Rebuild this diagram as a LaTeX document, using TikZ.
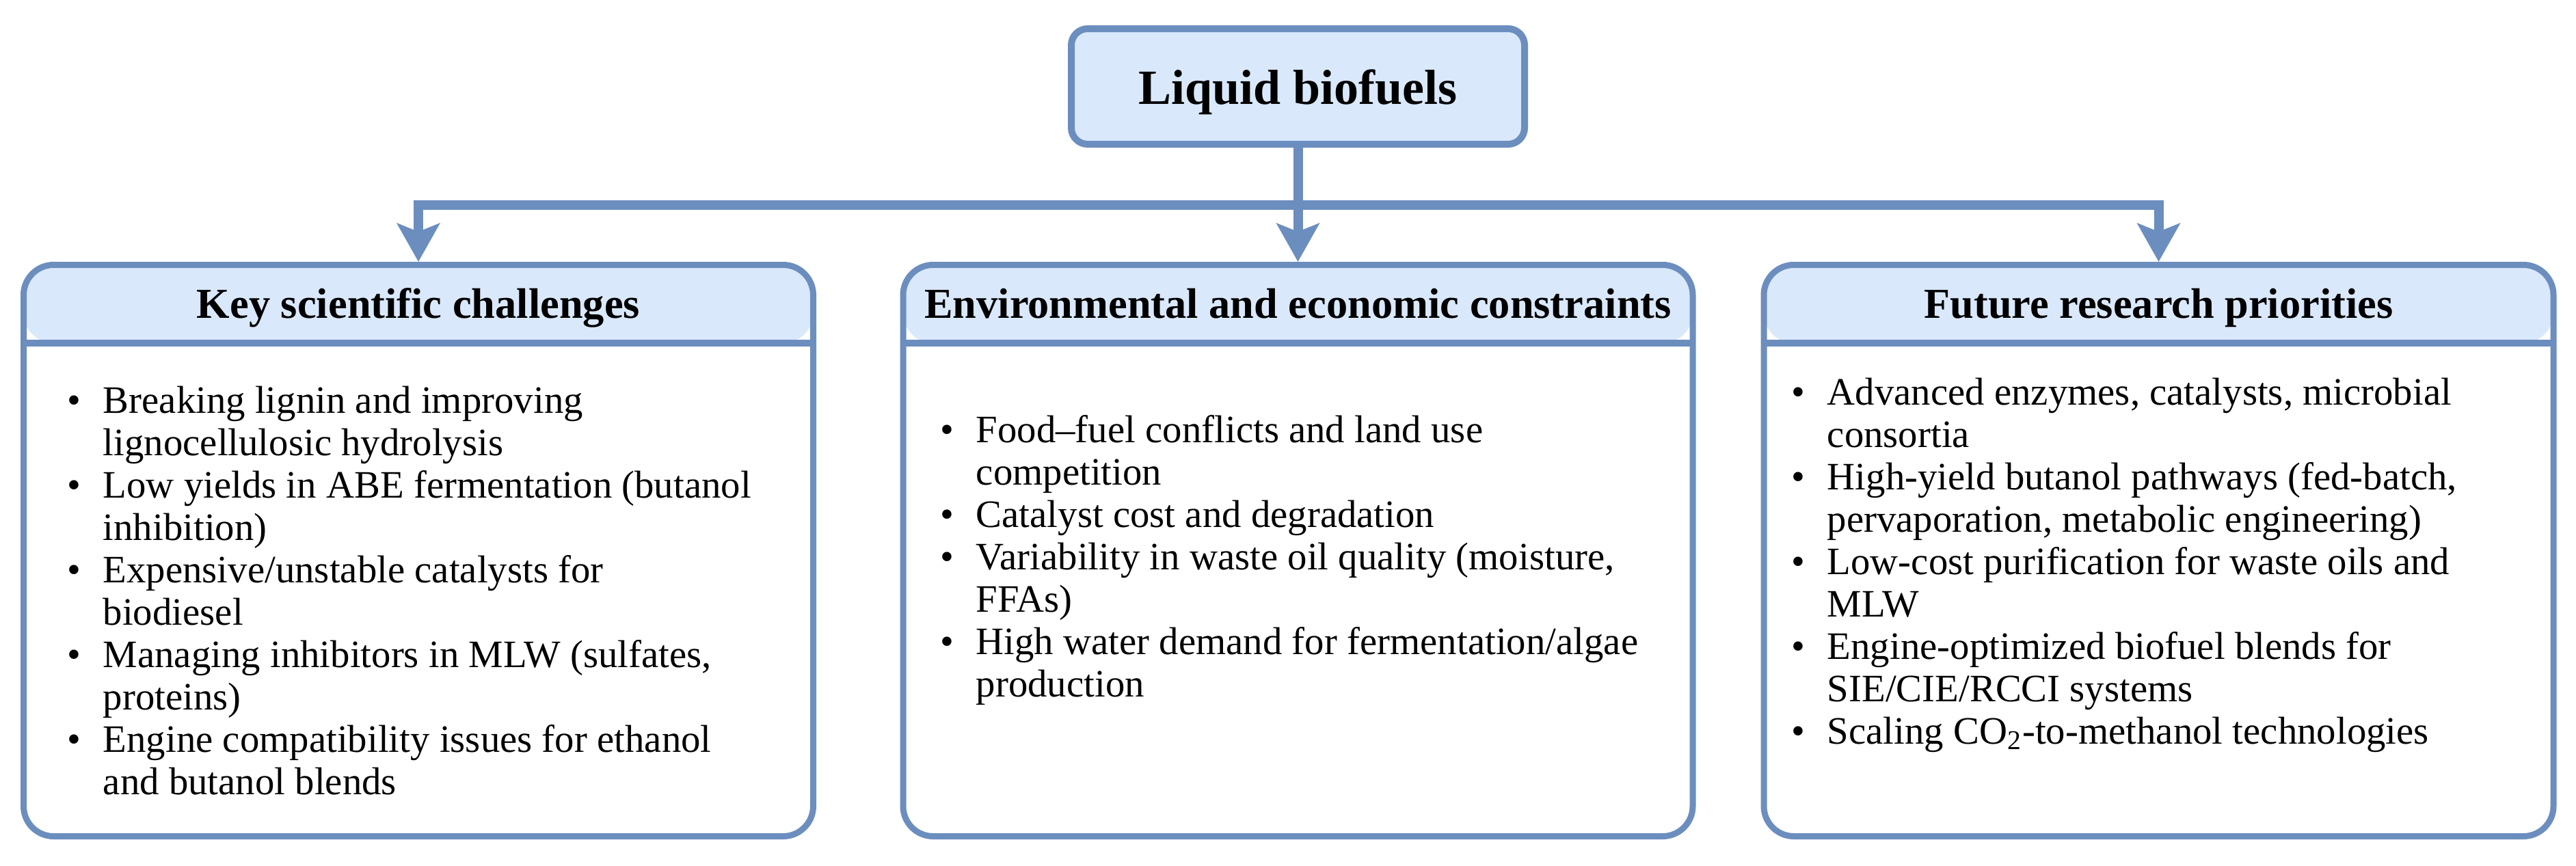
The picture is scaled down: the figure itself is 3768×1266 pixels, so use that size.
\documentclass[tikz,border=0pt]{standalone}
\usepackage{fontspec}
\setmainfont{Liberation Serif}
\usetikzlibrary{arrows.meta,calc}
\definecolor{bord}{HTML}{6C8EBF}
\definecolor{hdr}{HTML}{DAE8FC}
\newcommand{\bodyfont}{\fontsize{14.2}{15.5}\selectfont}
\newcommand{\bl}{\textbullet}
\begin{document}
\begin{tikzpicture}[x=0.25pt,y=-0.25pt,
  conn/.style={draw=bord, line width=3.5pt, -{Stealth[length=14pt,width=15.5pt,inset=3pt]}},
  topbox/.style={draw=bord, fill=hdr, line width=2.5pt, rounded corners=6pt, minimum width=165.75pt, minimum height=42.25pt, inner sep=0pt},
  toptext/.style={font=\fontsize{18}{20}\selectfont\bfseries, inner sep=0pt, anchor=base},
  panel/.style={draw=bord, fill=white, line width=2.25pt, rounded corners=11pt, minimum width=288.75pt, minimum height=209pt, inner sep=0pt,
    path picture={\fill[hdr] (path picture bounding box.north west) rectangle ([yshift=-28.6pt]path picture bounding box.north east);
      \draw[bord, line width=2.4pt] ([yshift=-28.6pt]path picture bounding box.north west) -- ([yshift=-28.6pt]path picture bounding box.north east);}},
  headtext/.style={font=\fontsize{15.6}{18}\selectfont\bfseries, inner sep=0pt, anchor=base},
  bodytext/.style={font=\bodyfont, inner sep=0pt, anchor=base west, align=left}
]
\useasboundingbox (0,0) rectangle (3768,1266);

% top box
\node[topbox] (T) at (1898.5,126.5) {};
\node[toptext] (Tt) at (1898.5,152) {Liquid biofuels};

% panels
\node[panel] (L) at (612,805.5) {};
\node[panel] (M) at (1898.5,805.5) {};
\node[panel] (R) at (3157.5,805.5) {};

% headers
\node[headtext] (Lh) at (612,465) {Key scientific challenges};
\node[headtext] (Mh) at (1898.5,465) {Environmental and economic constraints};
\node[headtext] (Rh) at (3157.5,465) {Future research priorities};

% connectors
\coordinate (bm) at (1898.5,300);
\draw[conn] (bm) -| (L.north);
\draw[conn] (bm) -| (R.north);
\draw[conn] (T.south) -- (M.north);

% body texts
\node[bodytext] (Lb) at (98,604) {\renewcommand{\arraystretch}{1}\begin{tabular}[t]{@{}p{13pt}@{}l@{}}
\bl & Breaking lignin and improving\\
 & lignocellulosic hydrolysis\\
\bl & Low yields in ABE fermentation (butanol\\
 & inhibition)\\
\bl & Expensive/unstable catalysts for\\
 & biodiesel\\
\bl & Managing inhibitors in MLW (sulfates,\\
 & proteins)\\
\bl & Engine compatibility issues for ethanol\\
 & and butanol blends
\end{tabular}};

\node[bodytext] (Mb) at (1375,647) {\renewcommand{\arraystretch}{1}\begin{tabular}[t]{@{}p{13pt}@{}l@{}}
\bl & Food–fuel conflicts and land use\\
 & competition\\
\bl & Catalyst cost and degradation\\
\bl & Variability in waste oil quality (moisture,\\
 & FFAs)\\
\bl & High water demand for fermentation/algae\\
 & production
\end{tabular}};

\node[bodytext] (Rb) at (2620,592) {\renewcommand{\arraystretch}{1}\begin{tabular}[t]{@{}p{13pt}@{}l@{}}
\bl & Advanced enzymes, catalysts, microbial\\
 & consortia\\
\bl & High-yield butanol pathways (fed-batch,\\
 & pervaporation, metabolic engineering)\\
\bl & Low-cost purification for waste oils and\\
 & MLW\\
\bl & Engine-optimized biofuel blends for\\
 & SIE/CIE/RCCI systems\\
\bl & Scaling CO\textsubscript{2}-to-methanol technologies
\end{tabular}};
\end{tikzpicture}
\end{document}
